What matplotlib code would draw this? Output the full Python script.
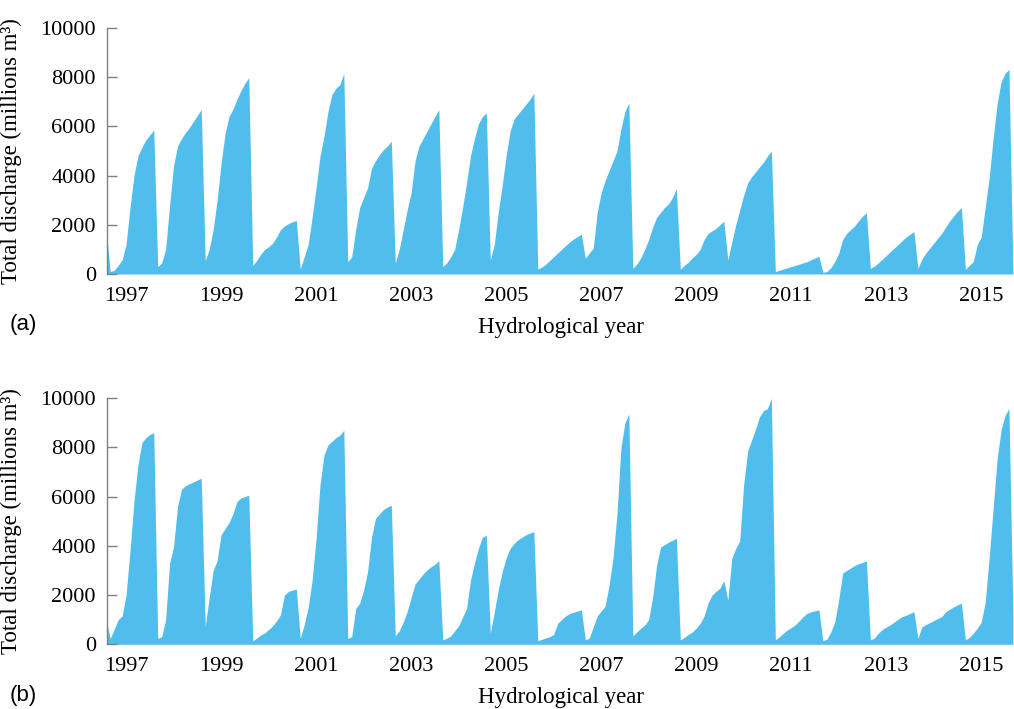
import matplotlib.pyplot as plt
import numpy as np

plt.rcParams['font.family'] = ['Liberation Serif', 'DejaVu Serif']

hydro_years = list(range(1997, 2016))
tick_years = list(range(1997, 2016, 2))
y_ticks = [0, 2000, 4000, 6000, 8000, 10000]

# cumulative discharge inside each hydrological year, Sep..Aug (millions m3)
aug_1996_a = 1800
discharge_a = [
    [100, 150, 350, 570, 1200, 2700, 4000, 4800, 5150, 5450, 5650, 5850],
    [300, 450, 1000, 2800, 4400, 5200, 5500, 5750, 5950, 6200, 6450, 6680],
    [550, 1000, 1800, 3000, 4500, 5700, 6400, 6700, 7100, 7450, 7750, 7980],
    [350, 550, 800, 1000, 1100, 1250, 1500, 1800, 1950, 2050, 2120, 2180],
    [200, 700, 1200, 2300, 3500, 4800, 5600, 6600, 7300, 7550, 7700, 8150],
    [500, 700, 1800, 2700, 3100, 3500, 4300, 4600, 4850, 5050, 5200, 5400],
    [450, 1000, 1800, 2600, 3300, 4600, 5200, 5500, 5800, 6100, 6400, 6680],
    [300, 450, 700, 1000, 1800, 2700, 3700, 4800, 5500, 6100, 6400, 6550],
    [570, 1200, 2500, 3600, 4800, 5800, 6300, 6500, 6700, 6900, 7100, 7350],
    [200, 280, 400, 550, 700, 850, 1000, 1150, 1300, 1420, 1520, 1620],
    [640, 850, 1050, 2500, 3300, 3800, 4200, 4600, 5000, 5900, 6600, 6960],
    [230, 400, 650, 1000, 1400, 1900, 2300, 2500, 2700, 2850, 3100, 3480],
    [190, 350, 480, 650, 800, 1000, 1400, 1650, 1750, 1850, 2000, 2150],
    [570, 1300, 2000, 2600, 3200, 3700, 3950, 4150, 4350, 4550, 4800, 5000],
    [100, 150, 200, 250, 300, 350, 400, 450, 500, 580, 650, 720],
    [70, 100, 250, 500, 840, 1400, 1650, 1800, 1950, 2150, 2350, 2490],
    [230, 320, 450, 600, 750, 900, 1050, 1200, 1350, 1500, 1620, 1720],
    [230, 600, 850, 1050, 1250, 1450, 1650, 1900, 2150, 2350, 2550, 2700],
    [190, 350, 500, 1200, 1500, 2700, 3900, 5500, 6900, 7800, 8150, 8320],
]
sep_2015_a = 200

aug_1996_b = 950
discharge_b = [
    [240, 600, 1000, 1150, 2000, 3800, 5800, 7300, 8200, 8400, 8530, 8600],
    [240, 310, 1000, 3300, 3970, 5600, 6300, 6450, 6530, 6600, 6680, 6750],
    [720, 1900, 3000, 3400, 4450, 4700, 4950, 5300, 5800, 5950, 6000, 6060],
    [140, 250, 380, 460, 600, 750, 950, 1200, 2000, 2150, 2200, 2250],
    [240, 800, 1500, 2600, 4300, 6500, 7700, 8100, 8250, 8400, 8500, 8700],
    [240, 310, 1450, 1670, 2200, 2950, 4350, 5120, 5300, 5480, 5580, 5650],
    [340, 550, 900, 1330, 1900, 2450, 2650, 2850, 3020, 3150, 3250, 3400],
    [180, 250, 340, 550, 750, 1100, 1450, 2600, 3300, 3900, 4350, 4430],
    [450, 1300, 2200, 2950, 3500, 3900, 4100, 4250, 4350, 4450, 4520, 4580],
    [150, 200, 260, 310, 400, 850, 1000, 1150, 1250, 1300, 1350, 1400],
    [180, 250, 700, 1150, 1350, 1550, 2400, 3500, 5300, 8000, 9000, 9360],
    [340, 500, 650, 780, 1000, 1900, 3200, 3950, 4050, 4150, 4230, 4310],
    [180, 280, 400, 500, 650, 850, 1150, 1670, 2000, 2150, 2280, 2590],
    [1800, 3500, 3900, 4200, 6500, 7850, 8300, 8750, 9250, 9500, 9580, 10000],
    [180, 300, 450, 580, 680, 790, 950, 1120, 1260, 1320, 1360, 1400],
    [150, 200, 500, 900, 1800, 2900, 3000, 3100, 3200, 3270, 3330, 3390],
    [180, 250, 450, 600, 700, 790, 900, 1020, 1120, 1180, 1250, 1330],
    [240, 700, 800, 880, 960, 1050, 1120, 1320, 1420, 1520, 1600, 1670],
    [180, 280, 450, 650, 900, 1700, 3500, 5500, 7500, 8700, 9300, 9590],
]
sep_2015_b = 1300


def monthly_series(first, yearly, last):
    # hydrological year N runs Sep (N-1) .. Aug N
    t = [hydro_years[0] - 1 + 7 / 12]
    v = [first]
    for yr, vals in zip(hydro_years, yearly):
        for m, val in enumerate(vals):
            t.append(yr - 1 + (8 + m) / 12)
            v.append(val)
    t.append(hydro_years[-1] + 8 / 12)
    v.append(last)
    return np.array(t), np.array(v)


fig = plt.figure(figsize=(10.14, 7.09), dpi=100)
W, H = 1014, 709
blue = '#50BEEC'
grey = '#808080'

panels = [
    (aug_1996_a, discharge_a, sep_2015_a, 28, '(a)'),
    (aug_1996_b, discharge_b, sep_2015_b, 398.3, '(b)'),
]

for first, yearly, last, top_px, tag in panels:
    ax = fig.add_axes([107 / W, 1 - (top_px + 246) / H, 907 / W, 246 / H])
    t, v = monthly_series(first, yearly, last)
    ax.fill_between(t, v, 0, color=blue, linewidth=0)

    ax.set_xlim(1996.599, 2015.69)
    ax.set_ylim(0, 10000)
    ax.set_xticks(tick_years)
    ax.set_yticks(y_ticks)

    for side in ['top', 'right', 'bottom']:
        ax.spines[side].set_visible(False)
    ax.spines['left'].set_color(grey)
    ax.spines['left'].set_linewidth(1.0)

    ax.tick_params(axis='y', direction='in', length=7, width=1, color=grey,
                   labelsize=16, pad=8)
    ax.tick_params(axis='x', length=0, labelsize=16, pad=9)

    ax.set_ylabel('Total discharge (millions m³)', fontsize=16.5)
    ax.yaxis.set_label_coords(-0.094, 0.5)
    ax.set_xlabel('Hydrological year', fontsize=16.5)
    ax.xaxis.set_label_coords(0.5, -53 / 246)
    ax.xaxis.label.set_va('center')

    fig.text(10 / W, 1 - (top_px + 246 + 51) / H, tag, family='Liberation Sans',
             fontsize=16, va='center', ha='left')

fig.savefig('out.png', dpi=100)
